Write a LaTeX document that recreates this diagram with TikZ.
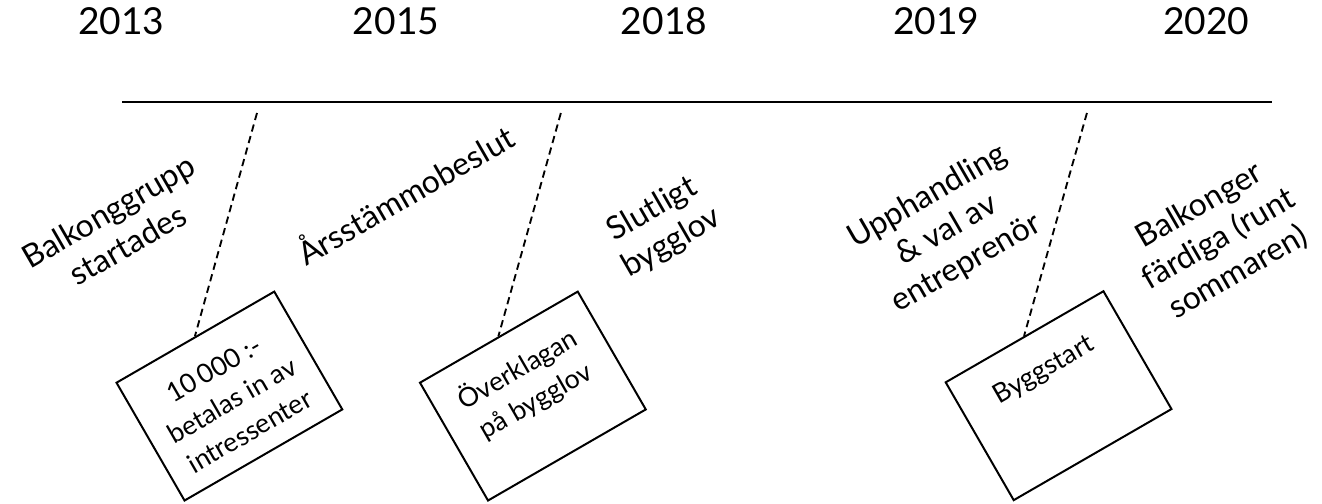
\documentclass[tikz,border=0pt]{standalone}
\usepackage{fontspec}
\setmainfont{Lato}

\tikzset{
  etikett/.style={rotate=30, align=center, font=\fontsize{24}{29}\selectfont},
  ruta/.style={draw, line width=1.5pt, rotate=30, inner sep=0pt, font=\fontsize{20}{27}\selectfont},
  streck/.style={dashed, dash pattern=on 5.5pt off 3.5pt, line width=1.4pt}
}
\newcommand{\rutatext}[1]{\parbox[c][3.6cm][t]{4.82cm}{\centering\rule{0pt}{35pt}#1}}

\begin{document}
\begin{tikzpicture}

  \useasboundingbox (0cm,0cm) rectangle (34.98cm,13.31cm);  %Rand

  \draw[line width=1.6pt] (3.23cm,10.61cm) -- (33.65cm,10.61cm);  %Tidslinje

  \foreach \x/\ar in {3.21/2013,10.48/2015,17.57/2018,24.77/2019,31.92/2020}  %Årtal
    \node[font=\fontsize{28}{34}\selectfont] (ar\ar) at (\x cm,12.75cm) {\ar};

  \node[etikett] (e1) at (3.12cm,7.28cm) {Balkonggrupp\\startades};
  \node[etikett] (e2) at (10.70cm,8.20cm) {Årsstämmobeslut};
  \node[etikett] (e3) at (17.52cm,7.32cm) {Slutligt\\bygglov};
  \node[etikett] (e4) at (25.06cm,7.22cm) {Upphandling\\\& val av\\entreprenör};
  \node[etikett] (e5) at (32.25cm,6.98cm) {Balkonger\\färdiga (runt\\sommaren)};

  \node[ruta] (r1) at (6.07cm,2.83cm) {\rutatext{10\,000 :-\\betalas in av\\intressenter}};  %Rutor
  \node[ruta] (r2) at (14.10cm,2.83cm) {\rutatext{Överklagan\\på bygglov}};
  \node[ruta] (r3) at (28.01cm,2.84cm) {\rutatext{Byggstart}};

  \coordinate (t1) at (6.80cm,10.32cm);  %Streckens övre ändar
  \coordinate (t2) at (14.84cm,10.32cm);
  \coordinate (t3) at (28.76cm,10.32cm);
  \foreach \i in {1,2,3}
    \draw[streck] (t\i) -- (r\i.north);  %Streck till rutorna

\end{tikzpicture}
\end{document}
